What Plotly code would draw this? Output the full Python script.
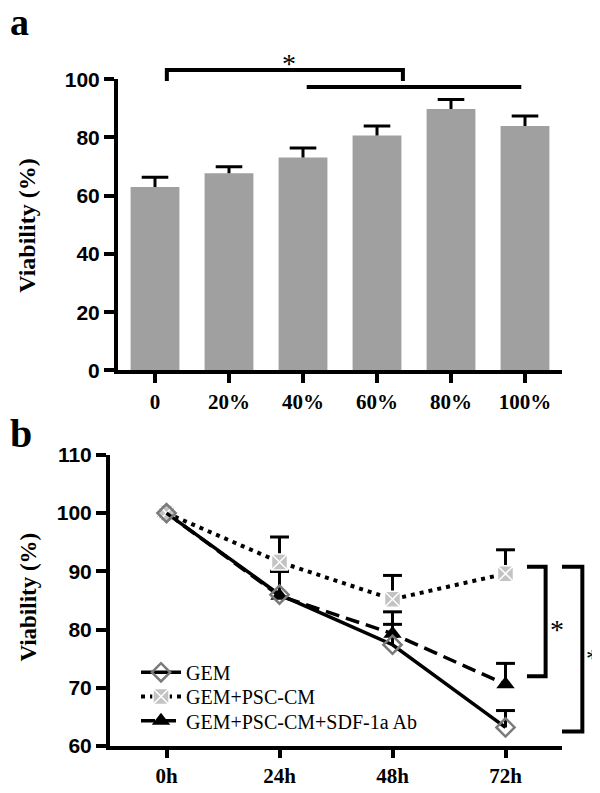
import plotly.graph_objects as go

# ---------------- data ----------------
# panel a
conc = ["0", "20%", "40%", "60%", "80%", "100%"]
viab_a = [63.0, 67.7, 73.1, 80.7, 89.8, 83.9]
err_a = [3.3, 2.2, 3.3, 3.2, 3.2, 3.5]

# panel b
times = ["0h", "24h", "48h", "72h"]
gem = [100, 86.0, 77.4, 63.2]
gem_err = [None, 4.0, 3.5, 2.9]
psc = [100, 91.6, 85.2, 89.6]
psc_err = [None, 4.3, 4.1, 4.1]
sdf = [100, 85.8, 79.3, 70.6]
sdf_err = [None, 4.2, 3.75, 3.6]
series_names = ["GEM", "GEM+PSC-CM", "GEM+PSC-CM+SDF-1a Ab"]

# The page body has an 8px default margin, so the figure is sized to end exactly
# at the window edge and positions are given in window pixels.
OFF = 8
FW, FH = 600 - OFF, 793 - OFF


def px_x(p):
    return (p - OFF) / FW


def px_y(p):
    return 1 - (p - OFF) / FH


# ---------------- geometry ----------------
XA_RANGE = [-0.5, 5.5]
XA_DOM = [px_x(118), px_x(562)]
YA_RANGE = [0, 100]
YA_DOM = [px_y(369), px_y(69)]

XB_RANGE = [-0.5, 3.5]
XB_DOM = [px_x(110), px_x(562)]
YB_RANGE = [60, 110]
YB_DOM = [px_y(756), px_y(456)]


def to_paper(v, rng, dom):
    return dom[0] + (v - rng[0]) / (rng[1] - rng[0]) * (dom[1] - dom[0])


def pa_x(v):
    return to_paper(v, XA_RANGE, XA_DOM)


def pa_y(v):
    return to_paper(v, YA_RANGE, YA_DOM)


def pb_x(v):
    return to_paper(v, XB_RANGE, XB_DOM)


def pb_y(v):
    return to_paper(v, YB_RANGE, YB_DOM)


SERIF = "Liberation Serif"
SANS = "Liberation Sans"

fig = go.Figure()

# ---------------- panel a ----------------
fig.add_trace(go.Bar(x=conc, y=viab_a, width=0.66, marker=dict(color="#a0a0a0", line=dict(width=0)),
                     xaxis="x", yaxis="y", showlegend=False, hoverinfo="skip"))
sx, sy = [], []
for c, v, e in zip(conc, viab_a, err_a):
    sx += [c, c, None]
    sy += [v, v + e, None]
fig.add_trace(go.Scatter(x=sx, y=sy, mode="lines", line=dict(color="black", width=3),
                         xaxis="x", yaxis="y", showlegend=False, hoverinfo="skip"))
fig.add_trace(go.Scatter(x=conc, y=[v + e for v, e in zip(viab_a, err_a)], mode="markers",
                         marker=dict(symbol="line-ew", size=19, line=dict(color="black", width=3)),
                         xaxis="x", yaxis="y", showlegend=False, hoverinfo="skip"))

# ---------------- panel b ----------------
# error bars first (below markers)
for vals, errs in [(sdf, sdf_err), (psc, psc_err), (gem, gem_err)]:
    ex, ey, cx, cy = [], [], [], []
    for t, v, e in zip(times, vals, errs):
        if e is None:
            continue
        ex += [t, t, None]
        ey += [v, v + e, None]
        cx.append(t)
        cy.append(v + e)
    fig.add_trace(go.Scatter(x=ex, y=ey, mode="lines", line=dict(color="black", width=3),
                             xaxis="x2", yaxis="y2", showlegend=False, hoverinfo="skip"))
    fig.add_trace(go.Scatter(x=cx, y=cy, mode="markers",
                             marker=dict(symbol="line-ew", size=13.5, line=dict(color="black", width=3)),
                             xaxis="x2", yaxis="y2", showlegend=False, hoverinfo="skip"))

fig.add_trace(go.Scatter(x=times, y=sdf, name=series_names[2], legend="legend3", mode="lines+markers",
                         line=dict(color="black", width=3.5, dash="14px,7px"),
                         marker=dict(symbol="triangle-up", size=16, color="black"),
                         xaxis="x2", yaxis="y2"))
fig.add_trace(go.Scatter(x=times, y=psc, name=series_names[1], legend="legend2", mode="lines+markers",
                         line=dict(color="black", width=4, dash="4px,5px"),
                         marker=dict(symbol="square-x", size=16, color="#c3c3c3",
                                     line=dict(color="white", width=1.5)),
                         xaxis="x2", yaxis="y2"))
fig.add_trace(go.Scatter(x=times, y=gem, name=series_names[0], legend="legend", mode="lines+markers",
                         line=dict(color="black", width=3.5),
                         marker=dict(symbol="diamond-open", size=14, color="#7a7a7a",
                                     line=dict(color="#7a7a7a", width=2.5)),
                         xaxis="x2", yaxis="y2"))

axis_common = dict(showline=True, linewidth=4, linecolor="black", ticks="outside",
                   tickwidth=4, tickcolor="black", showgrid=False, zeroline=False, mirror=False)

legend_common = dict(xanchor="left", yanchor="middle", bgcolor="rgba(0,0,0,0)", borderwidth=0,
                     font=dict(family=SERIF, size=20, color="black"), itemwidth=40)
LEG_X = px_x(136)

fig.update_layout(
    width=FW, height=FH, margin=dict(l=0, r=0, t=0, b=0),
    paper_bgcolor="white", plot_bgcolor="white",
    xaxis=dict(domain=XA_DOM, range=XA_RANGE, type="category", categoryorder="array",
               categoryarray=conc, anchor="y", ticklen=9,
               tickfont=dict(family=SERIF, size=21, color="black", weight="bold"), **axis_common),
    yaxis=dict(domain=YA_DOM, range=YA_RANGE, anchor="x", tickvals=[0, 20, 40, 60, 80, 100], ticklen=10,
               tickfont=dict(family=SANS, size=21, color="black", weight="bold"), **axis_common),
    xaxis2=dict(domain=XB_DOM, range=XB_RANGE, type="category", categoryorder="array",
                categoryarray=times, anchor="y2", ticklen=8,
                tickfont=dict(family=SERIF, size=21, color="black", weight="bold"), **axis_common),
    yaxis2=dict(domain=YB_DOM, range=YB_RANGE, anchor="x2", tickvals=[60, 70, 80, 90, 100, 110], ticklen=10,
                tickfont=dict(family=SANS, size=21, color="black", weight="bold"), **axis_common),
    legend=dict(x=LEG_X, y=px_y(680), **legend_common),
    legend2=dict(x=LEG_X, y=px_y(705), **legend_common),
    legend3=dict(x=LEG_X, y=px_y(730), **legend_common),
    showlegend=True,
)

shapes = []
LW = 4
# panel a brackets
bl, br, by, bt = 0.16, 3.35, 103.2, 99.4
shapes.append(dict(type="path", xref="paper", yref="paper",
                   path=f"M {pa_x(bl)} {pa_y(bt)} L {pa_x(bl)} {pa_y(by)} L {pa_x(br)} {pa_y(by)} L {pa_x(br)} {pa_y(bt)}",
                   line=dict(color="black", width=LW)))
shapes.append(dict(type="line", xref="paper", yref="paper", x0=pa_x(2.05), x1=pa_x(4.95),
                   y0=pa_y(97.3), y1=pa_y(97.3), line=dict(color="black", width=LW)))
# panel b brackets
for xl, xv, ylo, yhi in [(3.19, 3.355, 72.0, 90.8), (3.50, 3.68, 62.5, 90.8)]:
    shapes.append(dict(type="path", xref="paper", yref="paper",
                       path=f"M {pb_x(xl)} {pb_y(yhi)} L {pb_x(xv)} {pb_y(yhi)} L {pb_x(xv)} {pb_y(ylo)} L {pb_x(xl)} {pb_y(ylo)}",
                       line=dict(color="black", width=LW)))
fig.update_layout(shapes=shapes)

ann = []
ann.append(dict(text="a", x=0, y=1 + 22 / FH, xref="paper", yref="paper", xanchor="left", yanchor="top",
                showarrow=False, font=dict(family=SERIF, size=38, color="black", weight="bold")))
ann.append(dict(text="b", x=0, y=px_y(409), xref="paper", yref="paper", xanchor="left", yanchor="top",
                showarrow=False, font=dict(family=SERIF, size=40, color="black", weight="bold")))
ann.append(dict(text="Viability (%)", x=px_x(27), y=px_y(220), xref="paper", yref="paper", textangle=-90,
                xanchor="center", yanchor="middle", showarrow=False,
                font=dict(family=SERIF, size=24, color="black", weight="bold")))
ann.append(dict(text="Viability (%)", x=px_x(29), y=px_y(603), xref="paper", yref="paper", textangle=-90,
                xanchor="center", yanchor="middle", showarrow=False,
                font=dict(family=SERIF, size=23, color="black", weight="bold")))
star_font = dict(family=SERIF, size=28, color="black")
ann.append(dict(text="*", x=pa_x(1.81), y=pa_y(105.5), xref="paper", yref="paper", xanchor="center",
                yanchor="middle", showarrow=False, font=star_font))
ann.append(dict(text="*", x=pb_x(3.46), y=pb_y(80.0), xref="paper", yref="paper", xanchor="center",
                yanchor="middle", showarrow=False, font=star_font))
ann.append(dict(text="*", x=1.0, y=pb_y(75.0), xref="paper", yref="paper", xanchor="right",
                yanchor="middle", showarrow=False, font=dict(family=SERIF, size=26, color="black"),
                borderpad=0))
fig.update_layout(annotations=ann)

fig.write_html("out.html")
